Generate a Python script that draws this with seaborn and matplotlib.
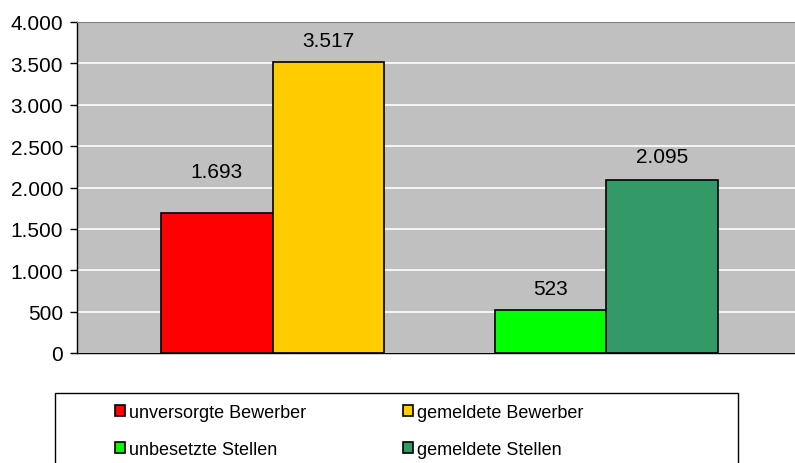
import matplotlib
matplotlib.use("Agg")
import matplotlib.pyplot as plt
import matplotlib.patches as mpatches
from matplotlib.ticker import FuncFormatter, MultipleLocator
import pandas as pd
import seaborn as sns

# data
groups = ["Bewerber", "Bewerber", "Stellen", "Stellen"]
slots = ["links", "rechts", "links", "rechts"]
labels = ["unversorgte Bewerber", "gemeldete Bewerber", "unbesetzte Stellen", "gemeldete Stellen"]
values = [1693, 3517, 523, 2095]
colors = ["#FF0000", "#FFCC00", "#00FF00", "#339966"]

df = pd.DataFrame({"group": groups, "slot": slots, "label": labels, "value": values})

sns.set_style("white")
plt.rcParams["font.family"] = ["Liberation Sans", "DejaVu Sans"]
plt.rcParams["text.color"] = "black"
plt.rcParams["ytick.color"] = "black"

fig = plt.figure(figsize=(7.95, 4.64), dpi=100)
ax = fig.add_axes([77 / 795, 110 / 464, 718 / 795, 331 / 464])
ax.set_facecolor("#C0C0C0")

sns.barplot(data=df, x="group", y="value", hue="slot", dodge=True, width=0.67,
            edgecolor="black", linewidth=1.2, legend=False, ax=ax)

# recolour bars in data order (seaborn draws hue by hue)
bars = [p for p in ax.patches if p.get_height() > 0]
bars = sorted(bars, key=lambda p: p.get_x())
for p, c in zip(bars, colors):
    p.set_facecolor(c)

# value labels (Excel put the first one higher)
offsets = [41, 21, 21, 23]
for p, v, off in zip(bars, values, offsets):
    ax.annotate(f"{v:,}".replace(",", "."), (p.get_x() + p.get_width() / 2, v),
                xytext=(0, off), textcoords="offset pixels",
                ha="center", va="center", fontsize=15, color="black")

ax.set_ylim(0, 4000)
ax.set_xlim(-0.587, 1.566)
ax.yaxis.set_major_locator(MultipleLocator(500))
ax.yaxis.set_major_formatter(FuncFormatter(lambda v, _: f"{v:,.0f}".replace(",", ".")))
ax.grid(axis="y", color="white", linewidth=1.2)
ax.set_axisbelow(True)
ax.set_xticks([])
ax.set_xlabel("")
ax.set_ylabel("")
ax.tick_params(axis="y", left=True, length=5, width=1, color="black",
               labelcolor="black", labelsize=15, pad=5)
for s in ["left", "bottom"]:
    ax.spines[s].set_color("black")
    ax.spines[s].set_linewidth(1)
ax.spines["top"].set_color("#808080")
ax.spines["right"].set_visible(False)

# legend box below the chart
fig.patches.append(mpatches.Rectangle((55 / 795, -0.1), 683 / 795, 0.1 + 70 / 464,
                                      transform=fig.transFigure, fill=False,
                                      edgecolor="black", linewidth=1))
order = [0, 2, 1, 3]
handles = [mpatches.Patch(facecolor=colors[i], edgecolor="black", linewidth=1.2) for i in order]
fig.legend(handles, [labels[i] for i in order], ncol=2, loc="upper left",
           bbox_to_anchor=(99 / 795, 1 - 389 / 464), frameon=False,
           handlelength=0.55, handleheight=0.55, handletextpad=0.2,
           columnspacing=5.4, labelspacing=1.1, fontsize=13)

fig.savefig("out.png", dpi=100)
